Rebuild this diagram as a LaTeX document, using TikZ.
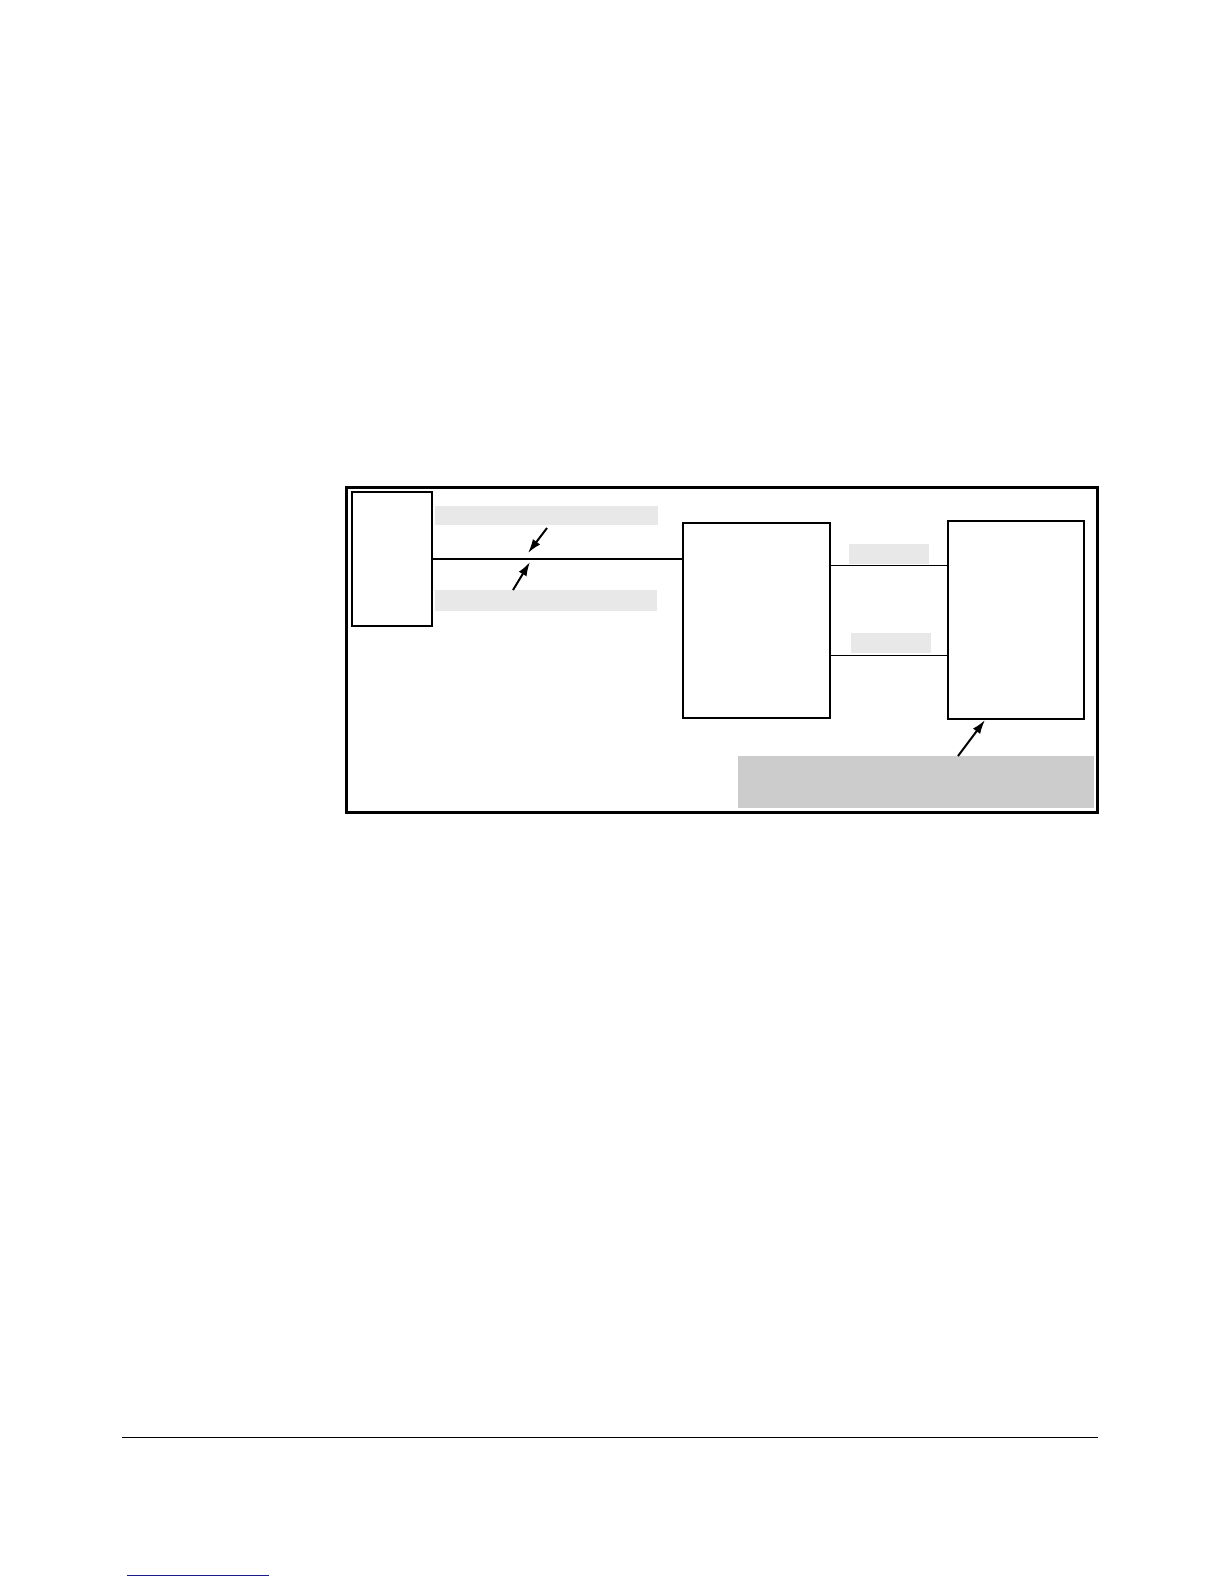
\documentclass[tikz,border=0pt]{standalone}
\usepackage{xcolor}
\usepackage{tikz}
\usetikzlibrary{positioning,arrows.meta}

\definecolor{barfill}{HTML}{E8E8E8}
\definecolor{notefill}{HTML}{CCCCCC}
\definecolor{linkblue}{HTML}{1A1A8C}

\begin{document}
\begin{tikzpicture}[
x=1pt,y=-1pt,
outer/.style={
  draw,
  line width=3pt,
  inner sep=0pt,
  minimum width=751pt,
  minimum height=325pt
  },
unit/.style={
  draw,
  line width=1.3pt,
  inner sep=0pt
  },
bar/.style={
  draw=none,
  fill=barfill,
  inner sep=0pt
  },
note/.style={
  draw=none,
  fill=notefill,
  inner sep=0pt,
  minimum width=356pt,
  minimum height=52pt
  },
>={Latex[length=14pt,width=9pt]}
]
\useasboundingbox (0,0) rectangle (1224,1584);
% frame and blocks
\node[outer] (frame) at (721.5,649.5) {};
\node[unit,line width=2pt,minimum width=80pt,minimum height=134pt] (host) at (392,559) {};
\node[unit,minimum width=147pt,minimum height=195pt] (mid) at (756.5,620.5) {};
\node[unit,minimum width=136pt,minimum height=198pt] (dev) at (1016,620) {};
% label bars
\node[bar,minimum width=223pt,minimum height=19pt] (barA) at (546.5,515.5) {};
\node[bar,minimum width=222pt,minimum height=21pt] (barB) at (546,600.5) {};
\node[bar,minimum width=80pt,minimum height=20pt] (tagA) at (889,554) {};
\node[bar,minimum width=80pt,minimum height=20pt] (tagB) at (891,643) {};
\node[note] (remark) at (916,782) {};
% links
\draw[line width=2pt] (host.east) -- (host.east -| mid.west);
\draw[line width=1pt] ([yshift=-43pt]mid.north east) -- ([yshift=-43pt]mid.north east -| dev.west);
\draw[line width=1pt] ([yshift=-133pt]mid.north east) -- ([yshift=-133pt]mid.north east -| dev.west);
% pointers
\coordinate (pA) at (547,528);
\coordinate (gA) at (528,553);
\coordinate (pB) at (513,590);
\coordinate (gB) at (530,562);
\coordinate (pC) at (958,756);
\coordinate (gC) at (985,720);
\draw[->,line width=2pt] (pA) -- (gA);
\draw[->,line width=2pt] (pB) -- (gB);
\draw[->,line width=2pt] (pC) -- (gC);
% page rules
\coordinate (ruleL) at (122,1437);
\coordinate (ruleR) at (1098,1437);
\draw[line width=1pt] (ruleL) -- (ruleR);
\coordinate (linkL) at (127,1575);
\coordinate (linkR) at (269,1575);
\draw[linkblue,line width=1pt] (linkL) -- (linkR);
\end{tikzpicture}
\end{document}
